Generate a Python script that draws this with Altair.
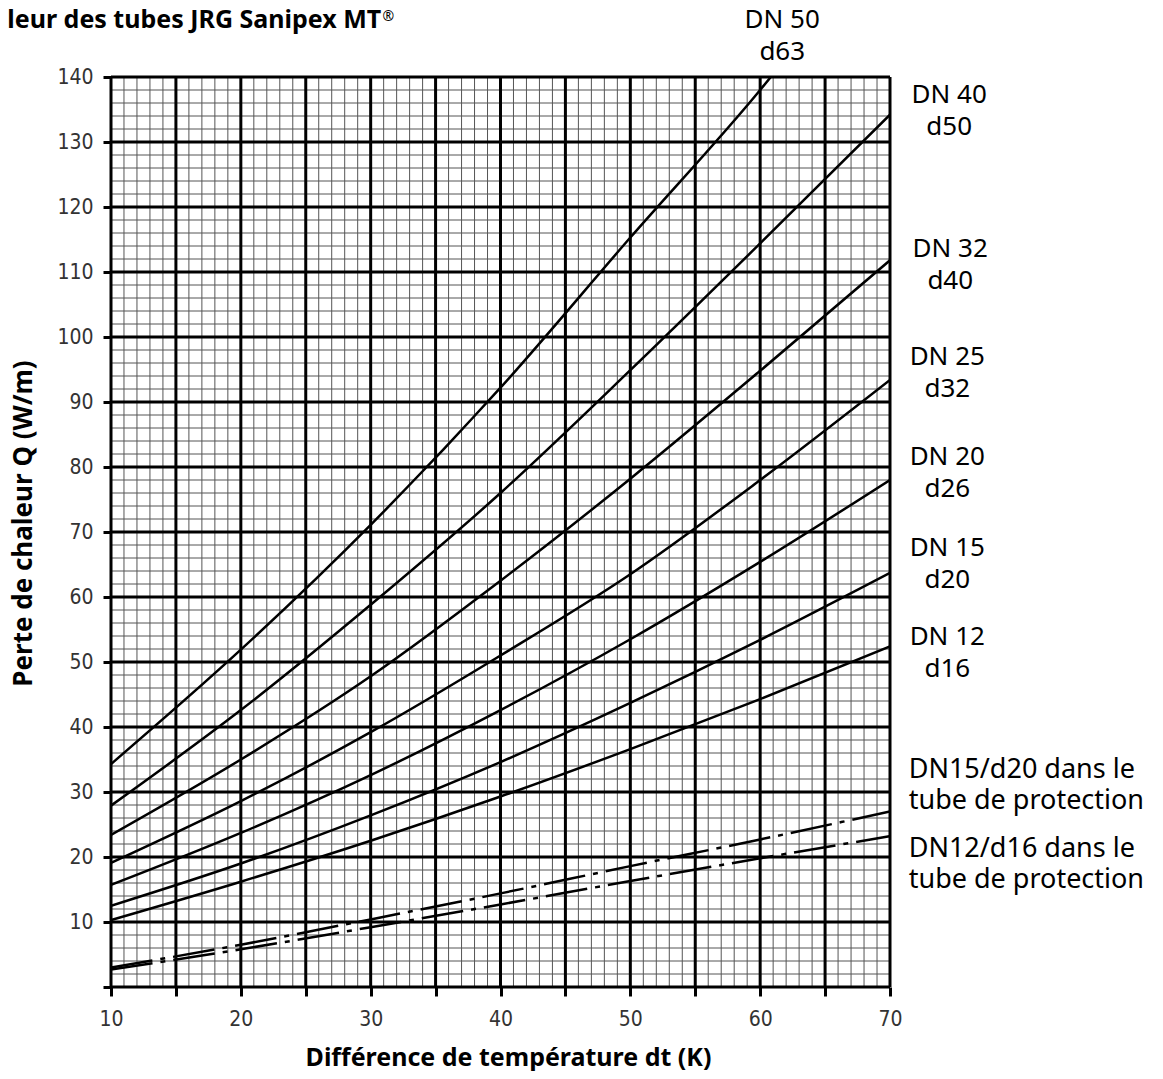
import altair as alt
import pandas as pd

# ---- data ----
dt = [10, 20, 30, 40, 50, 60, 70]
q_dn12 = [10.3, 16.2, 22.5, 29.3, 36.6, 44.3, 52.4]
q_dn15 = [12.5, 19.0, 26.4, 34.6, 43.7, 53.4, 63.7]
q_dn20 = [15.7, 23.7, 32.6, 42.6, 53.5, 65.4, 78.0]
q_dn25 = [19.1, 28.6, 39.2, 51.0, 63.5, 78.0, 93.4]
q_dn32 = [23.4, 35.0, 47.8, 62.5, 78.2, 94.8, 111.8]
q_dn40 = [27.9, 42.6, 58.8, 76.0, 94.9, 114.4, 134.2]
dt_dn50 = [10, 20, 30, 40, 50, 60, 65]
q_dn50 = [34.3, 51.9, 71.1, 92.2, 115.3, 138.0, 150.5]
q_dn15_prot = [3.0, 6.5, 10.4, 14.4, 18.6, 22.7, 27.0]
q_dn12_prot = [2.7, 5.8, 9.2, 12.7, 16.3, 19.8, 23.2]

x_minor = [v for v in range(10, 71) if v % 5 != 0]
x_major = list(range(10, 71, 5))
y_minor = [v for v in range(0, 141, 2) if v % 10 != 0]
y_major = list(range(0, 141, 10))

dn_labels = ["DN 50\nd63", "DN 40\nd50", "DN 32\nd40", "DN 25\nd32",
             "DN 20\nd26", "DN 15\nd20", "DN 12\nd16"]
dn_label_x = [61.7, 74.56, 74.64, 74.41, 74.41, 74.41, 74.41]
dn_label_y = [148.8, 137.3, 113.6, 97.0, 81.6, 67.5, 53.8]

prot_labels = ["DN15/d20 dans le\ntube de protection",
               "DN12/d16 dans le\ntube de protection"]
prot_label_x = [71.44, 71.44]
prot_label_y = [33.4, 21.3]

title_text = "Perte de chaleur des tubes JRG Sanipex MT"
title_x = [30.81]
title_y = [147.5]
reg_text = "®"
reg_x = [30.92]
reg_y = [148.6]

# ---- tables ----
solid_rows = []
for name, qs, xs_ in [("DN12", q_dn12, dt), ("DN15", q_dn15, dt), ("DN20", q_dn20, dt),
                      ("DN25", q_dn25, dt), ("DN32", q_dn32, dt), ("DN40", q_dn40, dt),
                      ("DN50", q_dn50, dt_dn50)]:
    for x, q in zip(xs_, qs):
        solid_rows.append({"series": name, "dt": x, "q": q})
solid_df = pd.DataFrame(solid_rows)

dash_rows = []
for name, qs in [("DN15p", q_dn15_prot), ("DN12p", q_dn12_prot)]:
    for x, q in zip(dt, qs):
        dash_rows.append({"series": name, "dt": x, "q": q})
dash_df = pd.DataFrame(dash_rows)

xs = alt.Scale(domain=[10, 70], nice=False, zero=False)
ys = alt.Scale(domain=[0, 140], nice=False, zero=False)

TICK_FONT = "'Liberation Sans Narrow', 'DejaVu Sans Condensed', sans-serif"
TEXT_FONT = "Noto Sans"

x_axis = alt.Axis(
    values=x_major, labelExpr="datum.value % 10 == 0 ? datum.label : ''",
    grid=False, domain=False, ticks=True, tickColor="black", tickWidth=3, tickSize=9,
    labelFont=TICK_FONT, labelFontSize=21, labelColor="#333", labelPadding=12,
    labelFlush=False,
    title="Différence de température dt (K)", titleFont=TEXT_FONT, titleFontSize=25,
    titleFontWeight="bold", titleColor="black", titleX=397, titleY=78,
    titleBaseline="alphabetic", titleAlign="center",
)
y_axis = alt.Axis(
    values=y_major, labelExpr="datum.value == 0 ? '' : datum.label",
    grid=False, domain=False, ticks=True, tickColor="black", tickWidth=3, tickSize=8,
    labelFont=TICK_FONT, labelFontSize=21, labelColor="#333", labelPadding=10,
    labelFlush=False,
    title="Perte de chaleur Q (W/m)", titleFont=TEXT_FONT, titleFontSize=26,
    titleFontWeight="bold", titleColor="black", titleX=-80, titleY=446,
    titleBaseline="alphabetic", titleAlign="center", titleAngle=270,
)

xminor = alt.Chart(pd.DataFrame({"v": x_minor})).mark_rule(color="#555", strokeWidth=1).encode(
    x=alt.X("v:Q", scale=xs, axis=x_axis))
yminor = alt.Chart(pd.DataFrame({"v": y_minor})).mark_rule(color="#555", strokeWidth=1).encode(
    y=alt.Y("v:Q", scale=ys, axis=y_axis))
xmajor = alt.Chart(pd.DataFrame({"v": x_major})).mark_rule(color="black", strokeWidth=3).encode(
    x=alt.X("v:Q", scale=xs, axis=x_axis))
ymajor = alt.Chart(pd.DataFrame({"v": y_major})).mark_rule(color="black", strokeWidth=3).encode(
    y=alt.Y("v:Q", scale=ys, axis=y_axis))

solid = alt.Chart(solid_df).mark_line(color="black", strokeWidth=2.5, interpolate="monotone",
                                      clip=True).encode(
    x=alt.X("dt:Q", scale=xs, axis=x_axis),
    y=alt.Y("q:Q", scale=ys, axis=y_axis),
    detail="series:N",
)
dashed = alt.Chart(dash_df).mark_line(color="black", strokeWidth=2.5, interpolate="monotone",
                                      strokeDash=[42, 8, 5, 8], clip=True).encode(
    x=alt.X("dt:Q", scale=xs, axis=x_axis),
    y=alt.Y("q:Q", scale=ys, axis=y_axis),
    detail="series:N",
)

dn_df = pd.DataFrame({"x": dn_label_x, "y": dn_label_y, "t": dn_labels})
dn_text = alt.Chart(dn_df).mark_text(font=TEXT_FONT, fontSize=26, color="black", align="center",
                                     baseline="middle", lineBreak="\n", lineHeight=32).encode(
    x=alt.X("x:Q", scale=xs, axis=x_axis), y=alt.Y("y:Q", scale=ys, axis=y_axis), text="t:N")

prot_df = pd.DataFrame({"x": prot_label_x, "y": prot_label_y, "t": prot_labels})
prot_text = alt.Chart(prot_df).mark_text(font=TEXT_FONT, fontSize=27, color="black", align="left",
                                         baseline="middle", lineBreak="\n", lineHeight=31).encode(
    x=alt.X("x:Q", scale=xs, axis=x_axis), y=alt.Y("y:Q", scale=ys, axis=y_axis), text="t:N")

title_df = pd.DataFrame({"x": title_x, "y": title_y, "t": [title_text]})
title_mark = alt.Chart(title_df).mark_text(font=TEXT_FONT, fontSize=25, fontWeight="bold",
                                           color="black", align="right",
                                           baseline="alphabetic").encode(
    x=alt.X("x:Q", scale=xs, axis=x_axis), y=alt.Y("y:Q", scale=ys, axis=y_axis), text="t:N")

reg_df = pd.DataFrame({"x": reg_x, "y": reg_y, "t": [reg_text]})
reg_mark = alt.Chart(reg_df).mark_text(font=TEXT_FONT, fontSize=14, color="black", align="left",
                                       baseline="alphabetic").encode(
    x=alt.X("x:Q", scale=xs, axis=x_axis), y=alt.Y("y:Q", scale=ys, axis=y_axis), text="t:N")

chart = alt.layer(xminor, yminor, xmajor, ymajor, solid, dashed, dn_text, prot_text,
                  title_mark, reg_mark).properties(
    width=779, height=910,
    autosize=alt.AutoSizeParams(type="none"),
    padding={"left": 103, "top": 69, "right": 259, "bottom": 84},
).configure_view(stroke=None).configure(background="white")

chart.save("out.html", embed_options={"renderer": "svg", "actions": False})
